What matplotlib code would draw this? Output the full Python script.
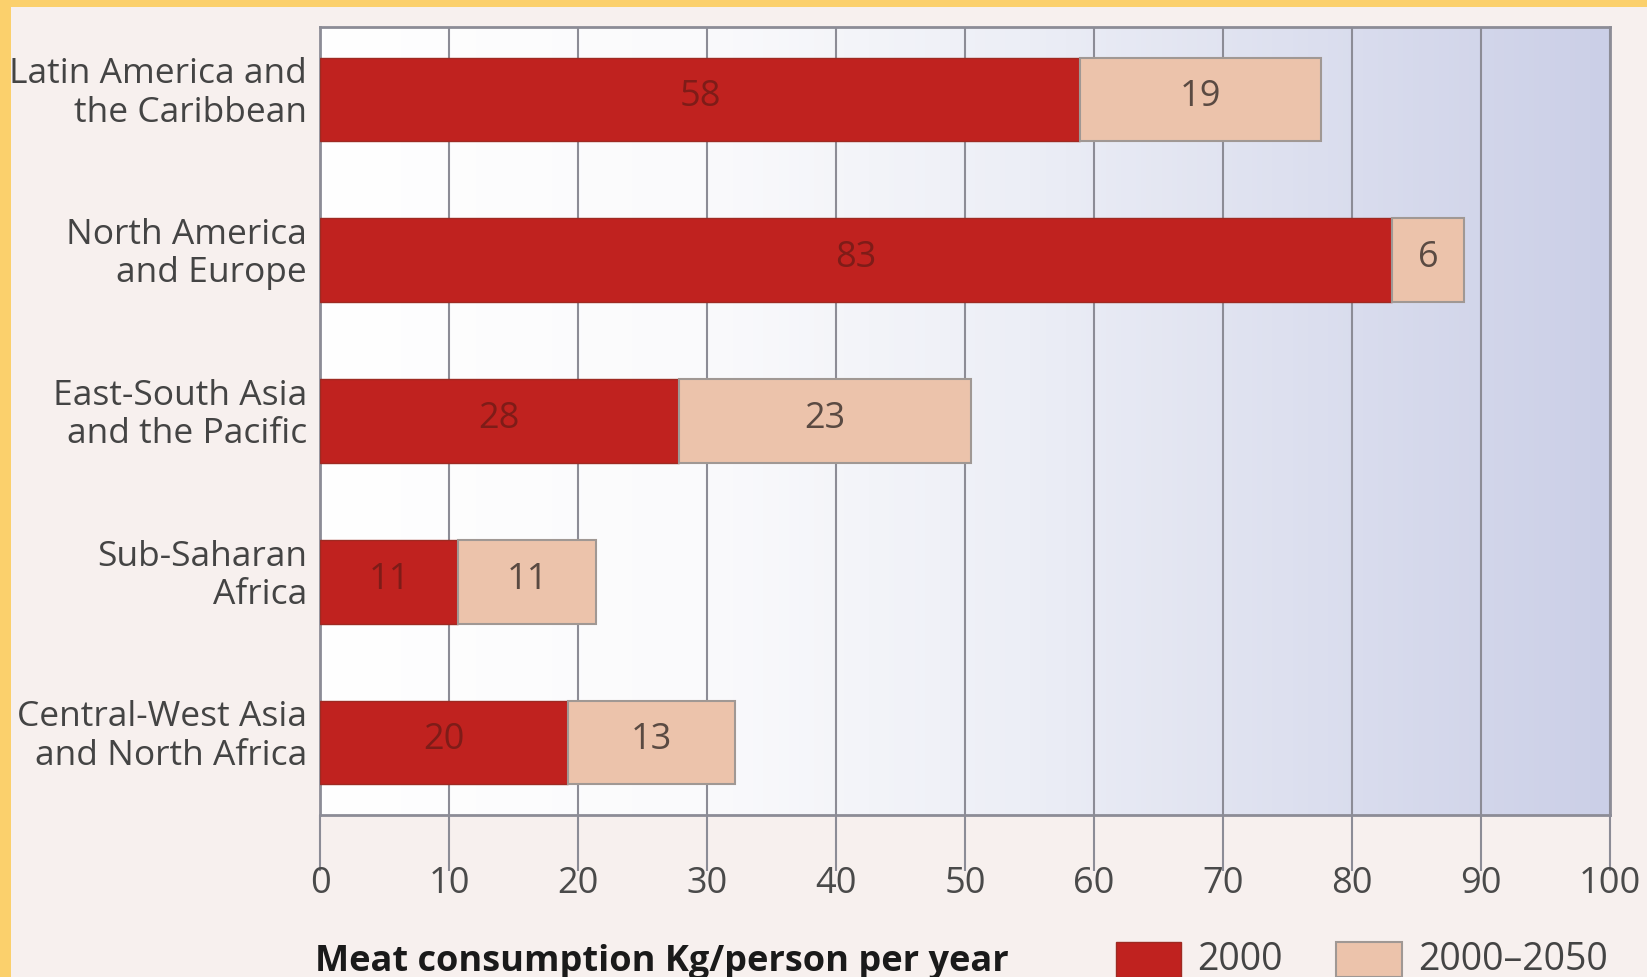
import matplotlib
matplotlib.use("Agg")
import matplotlib.pyplot as plt
import matplotlib.transforms as mtransforms
import numpy as np
from matplotlib.colors import LinearSegmentedColormap
from matplotlib.patches import Rectangle

plt.rcParams['font.family'] = ['Open Sans', 'DejaVu Sans']

regions = ["Latin America and\nthe Caribbean", "North America\nand Europe",
           "East-South Asia\nand the Pacific", "Sub-Saharan\nAfrica",
           "Central-West Asia\nand North Africa"]
consumption_2000 = [58.9, 83.1, 27.8, 10.7, 19.2]
increase_2000_2050 = [18.7, 5.6, 22.7, 10.7, 13.0]
labels_2000 = [58, 83, 28, 11, 20]
labels_increase = [19, 6, 23, 11, 13]
xticks = [0, 10, 20, 30, 40, 50, 60, 70, 80, 90, 100]
legend_labels = ["2000", "2000\u20132050"]

W, H = 1647, 978
fig = plt.figure(figsize=(W / 100, H / 100), dpi=100)
fig.patch.set_facecolor("#f7f0ee")

# border strips
fig.add_artist(Rectangle((0, 1 - 8 / H), 1, 8 / H, transform=fig.transFigure,
                         facecolor="#fbd06c", edgecolor="none"))
fig.add_artist(Rectangle((0, 0), 11 / W, 1, transform=fig.transFigure,
                         facecolor="#fbd06c", edgecolor="none"))

ax = fig.add_axes([320 / W, 1 - 816 / H, (1610 - 320) / W, (816 - 28) / H])

# gradient background
cmap = LinearSegmentedColormap.from_list(
    "bg", [(0, "#ffffff"), (0.3, "#fafafc"), (0.55, "#eceef6"), (1.0, "#cbcfe7")])
grad = np.linspace(0, 1, 256).reshape(1, -1)
ax.imshow(grad, aspect="auto", cmap=cmap, extent=[0, 100, 4.45, -0.45], zorder=0)

y = np.arange(len(regions))
red = "#c0221f"
light = "#ecc3ab"
ax.barh(y, consumption_2000, height=0.52, color=red, edgecolor="#9e2a22",
        linewidth=1.0, zorder=3)
ax.barh(y, increase_2000_2050, left=consumption_2000, height=0.52, color=light,
        edgecolor="#a09894", linewidth=1.5, zorder=3)

for i in range(len(regions)):
    ax.text(consumption_2000[i] / 2, y[i] - 0.02, str(labels_2000[i]), ha="center",
            va="center", fontsize=26, color="#7e1c18", zorder=4)
    ax.text(consumption_2000[i] + increase_2000_2050[i] / 2, y[i] - 0.02,
            str(labels_increase[i]), ha="center", va="center", fontsize=26,
            color="#5a4a42", zorder=4)

ax.set_xlim(0, 100)
ax.set_ylim(4.45, -0.45)
ax.set_xticks(xticks)
ax.set_xticklabels([str(t) for t in xticks], fontsize=26, color="#4a4a4a")
ax.set_yticks(y)
ax.set_yticklabels([])
ax.tick_params(axis="y", length=0)
# category labels, placed slightly above each bar's centre as in the reference
btrans = mtransforms.blended_transform_factory(ax.transAxes, ax.transData)
shift = mtransforms.ScaledTranslation(0, 7 / 100, fig.dpi_scale_trans)
for i, name in enumerate(regions):
    ax.text(-13 / 1290, y[i], name, transform=btrans + shift, ha="right",
            va="center", fontsize=25.5, color="#444444", linespacing=1.17,
            multialignment="right")
ax.tick_params(axis="x", length=40, width=1.5, color="#8c8c96", pad=-4,
               direction="out")
ax.xaxis.grid(True, color="#8c8c96", linewidth=1.5, zorder=1)
ax.set_axisbelow(True)
for sp in ax.spines.values():
    sp.set_color("#8c8c96")
    sp.set_linewidth(2)

fig.text(315 / W, 1 - 962 / H, "Meat consumption Kg/person per year",
         fontsize=26, fontweight="bold", color="#1a1a1a", ha="left", va="center")

# legend
fig.add_artist(Rectangle((1116 / W, 0), 65 / W, 35 / H, transform=fig.transFigure,
                         facecolor=red, edgecolor="#9e2a22", linewidth=1))
fig.text(1197 / W, 1 - 960 / H, legend_labels[0], fontsize=27, color="#444444",
         ha="left", va="center")
fig.add_artist(Rectangle((1336 / W, 0), 66 / W, 35 / H, transform=fig.transFigure,
                         facecolor=light, edgecolor="#a09894", linewidth=1.5))
fig.text(1418 / W, 1 - 960 / H, legend_labels[1], fontsize=27, color="#444444",
         ha="left", va="center")

fig.savefig("out.png", dpi=100, facecolor=fig.get_facecolor())
